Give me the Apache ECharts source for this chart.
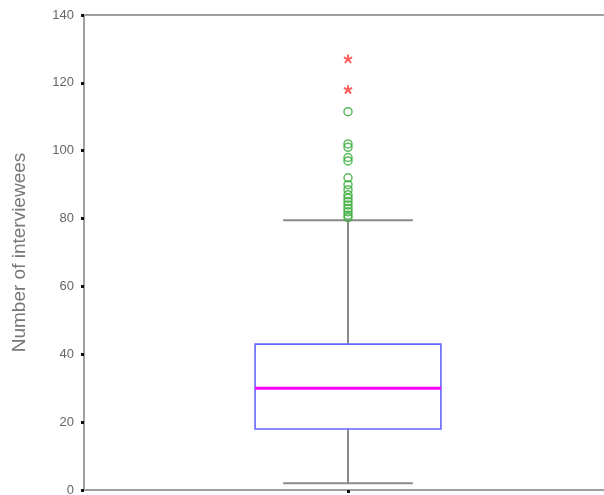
<!DOCTYPE html>
<html>
<head>
<meta charset="utf-8">
<script src="https://cdn.jsdelivr.net/npm/echarts@6/dist/echarts.min.js"></script>
<style>html,body{margin:0;padding:0;background:#fff;overflow:hidden;}#c{width:604px;height:495px;}</style>
</head>
<body>
<div id="c"></div>
<script>
var categories = [''];
// [min, q1, median, q3, max]
var boxStats = [2, 18, 30, 43, 79.5];
var outliers = [111.5, 102, 101, 98, 97, 92, 90, 88.5, 87, 86, 85, 84, 83, 82, 81, 80.3];
var extremes = [127, 118];
var yTicks = [0, 20, 40, 60, 80, 100, 120, 140];

var chart = echarts.init(document.getElementById('c'), null, {renderer: 'canvas'});

function renderBox(params, api) {
  var cat = api.value(0);
  var band = api.size([1, 0])[0];
  var hw = band * 0.176;
  var cw = band * 0.123;
  var pMin = api.coord([cat, api.value(1)]);
  var pQ1 = api.coord([cat, api.value(2)]);
  var pMed = api.coord([cat, api.value(3)]);
  var pQ3 = api.coord([cat, api.value(4)]);
  var pMax = api.coord([cat, api.value(5)]);
  var x = pMed[0];
  var whisk = {stroke: '#8a8a8a', lineWidth: 2};
  return {
    type: 'group',
    children: [
      {type: 'line', shape: {x1: x, y1: pMax[1], x2: x, y2: pQ3[1]}, style: whisk},
      {type: 'line', shape: {x1: x, y1: pQ1[1], x2: x, y2: pMin[1]}, style: whisk},
      {type: 'line', shape: {x1: x - cw, y1: pMax[1], x2: x + cw, y2: pMax[1]}, style: whisk},
      {type: 'line', shape: {x1: x - cw, y1: pMin[1], x2: x + cw, y2: pMin[1]}, style: whisk},
      {type: 'rect', shape: {x: x - hw, y: pQ3[1], width: 2 * hw, height: pQ1[1] - pQ3[1]},
        style: {fill: '#fff', stroke: '#6666ff', lineWidth: 1.6}},
      {type: 'line', shape: {x1: x - hw, y1: pMed[1], x2: x + hw, y2: pMed[1]},
        style: {stroke: '#ff00ff', lineWidth: 3}}
    ]
  };
}

var option = {
  animation: false,
  backgroundColor: '#fff',
  grid: {left: 84, width: 528, top: 15, bottom: 5, outerBoundsMode: 'none', containLabel: false},
  xAxis: [{
    type: 'category',
    data: categories,
    boundaryGap: true,
    axisLine: {show: true, lineStyle: {color: '#a0a0a0', width: 2}},
    axisTick: {show: true, alignWithLabel: true, length: 3, lineStyle: {color: '#111', width: 3}},
    axisLabel: {show: false},
    splitLine: {show: false}
  }, {
    type: 'category',
    data: categories,
    position: 'top',
    axisLine: {show: true, lineStyle: {color: '#a0a0a0', width: 2}},
    axisTick: {show: false},
    axisLabel: {show: false}
  }],
  yAxis: {
    type: 'value',
    min: 0, max: 140, interval: 20,
    name: 'Number of interviewees',
    nameLocation: 'middle',
    nameGap: 55,
    nameRotate: 90,
    nameTextStyle: {color: '#777', fontSize: 19, fontFamily: 'Liberation Sans, Arial, sans-serif'},
    axisLine: {show: true, onZero: false, lineStyle: {color: '#a0a0a0', width: 2}},
    axisTick: {show: true, length: 3, lineStyle: {color: '#111', width: 3}},
    axisLabel: {color: '#666', fontSize: 13, margin: 10, fontFamily: 'Liberation Sans, Arial, sans-serif',
      formatter: function (v) { return yTicks.indexOf(v) >= 0 ? String(v) : ''; }},
    splitLine: {show: false}
  },
  series: [{
    type: 'custom',
    renderItem: renderBox,
    data: [[0].concat(boxStats)],
    encode: {x: 0, y: [1, 2, 3, 4, 5]},
    z: 2
  }, {
    type: 'scatter',
    data: outliers.map(function (v) { return [0, v]; }),
    symbol: 'circle',
    symbolSize: 8,
    itemStyle: {color: 'rgba(0,0,0,0)', borderColor: '#33aa33', borderWidth: 1.5},
    z: 3
  }, {
    type: 'scatter',
    data: extremes.map(function (v) { return [0, v]; }),
    symbol: 'path://M4,0 L6,0 L6,3.3 L9,2 L9.8,3.9 L6.8,5 L9,8 L7.4,9.2 L5,6.4 L2.6,9.2 L1,8 L3.2,5 L0.2,3.9 L1,2 L4,3.3 Z',
    symbolSize: 9,
    itemStyle: {color: '#ff3333'},
    z: 3
  }]
};
chart.setOption(option);
</script>
</body>
</html>
